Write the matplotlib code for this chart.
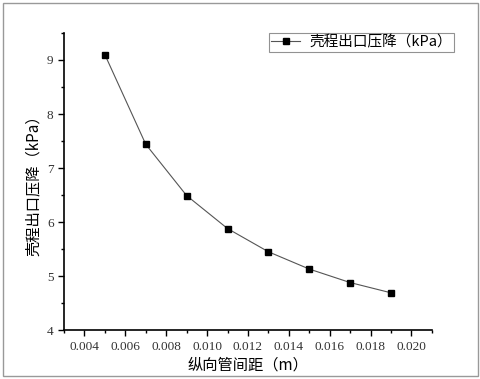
import matplotlib
matplotlib.use("Agg")
import matplotlib.pyplot as plt
from matplotlib.patches import Rectangle
from matplotlib.ticker import MultipleLocator, FormatStrFormatter

# data
spacing = [0.005, 0.007, 0.009, 0.011, 0.013, 0.015, 0.017, 0.019]
pressure_drop = [9.10, 7.44, 6.49, 5.88, 5.45, 5.13, 4.88, 4.69]
series_label = "壳程出口压降（kPa）"
x_label = "纵向管间距（m）"
y_label = "壳程出口压降（kPa）"

cjk = ["Noto Sans CJK SC", "DejaVu Sans"]
serif = ["Liberation Serif", "DejaVu Serif"]

fig = plt.figure(figsize=(4.81, 3.79), dpi=100)
ax = fig.add_axes([0.133, 0.129, 0.765, 0.784])

ax.plot(spacing, pressure_drop, color="#555555", lw=0.8,
        marker="s", markersize=5, markerfacecolor="black",
        markeredgecolor="black", label=series_label)

ax.set_xlim(0.003, 0.021)
ax.set_ylim(4, 9.5)
ax.xaxis.set_major_locator(MultipleLocator(0.002))
ax.xaxis.set_minor_locator(MultipleLocator(0.001))
ax.yaxis.set_major_locator(MultipleLocator(1))
ax.yaxis.set_minor_locator(MultipleLocator(0.5))
ax.xaxis.set_major_formatter(FormatStrFormatter("%.3f"))

for side in ("top", "right"):
    ax.spines[side].set_visible(False)
for side in ("left", "bottom"):
    ax.spines[side].set_linewidth(1.2)

ax.tick_params(which="both", direction="out", width=1.0)
ax.tick_params(which="major", length=4, labelsize=9.5, labelcolor="#333333")
ax.tick_params(which="minor", length=2.5)
for lbl in ax.get_xticklabels() + ax.get_yticklabels():
    lbl.set_family(serif)

ax.set_xlabel(x_label, family=cjk, fontsize=11, labelpad=3)
ax.set_ylabel(y_label, family=cjk, fontsize=11, labelpad=4)

leg = ax.legend(loc="upper right", bbox_to_anchor=(1.06, 1.0),
                prop={"family": cjk, "size": 10.5}, fancybox=False,
                frameon=True, edgecolor="#777777", borderpad=0.15,
                handlelength=2.0, handletextpad=0.6, borderaxespad=0)
leg.get_frame().set_linewidth(0.8)

# thin grey border around the whole picture
fig.add_artist(Rectangle((0.006, 0.008), 0.988, 0.984, transform=fig.transFigure,
                         fill=False, edgecolor="#999999", lw=1.0))

fig.savefig("out.png", dpi=100)
